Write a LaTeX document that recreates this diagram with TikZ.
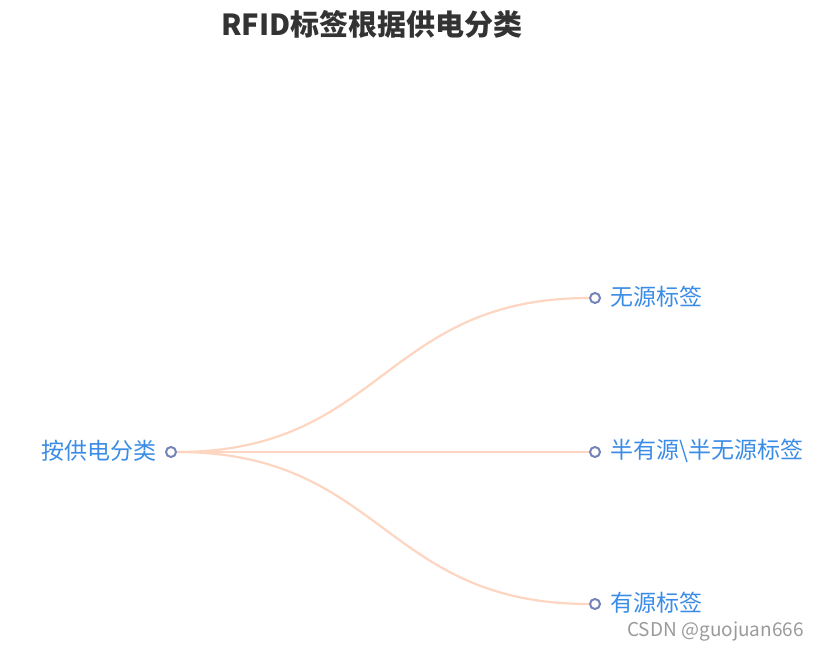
\documentclass[tikz,border=0pt]{standalone}
\usepackage{fontspec}
\newfontfamily\cjk{Noto Sans CJK SC}
\definecolor{edgec}{HTML}{FDD5C1}
\definecolor{dotc}{HTML}{7384B8}
\definecolor{txtc}{HTML}{3B8CE6}
\definecolor{titlec}{HTML}{333333}
\definecolor{wmc}{HTML}{9A9A9A}
\begin{document}
\begin{tikzpicture}[x=1pt,y=-1pt,
  dot/.style={circle,draw=dotc,fill=white,line width=2pt,minimum size=10pt,inner sep=0pt},
  conn/.style={draw=edgec,line width=2.2pt},
  lbl/.style={text=txtc,font=\cjk\fontsize{23}{26}\selectfont,inner sep=0pt}]
\useasboundingbox (0,0) rectangle (820,652);
\node[font=\cjk\bfseries\fontsize{29}{32}\selectfont,text=titlec,inner sep=0pt] (title) at (372,24) {RFID标签根据供电分类};
\node[dot] (root) at (171,452) {};
\node[dot] (a) at (595,298) {};
\node[dot] (b) at (595,452) {};
\node[dot] (c) at (595,604) {};
\node[lbl,anchor=east] (rl) at (157,451) {按供电分类};
\node[lbl,anchor=west] (al) at (610,297) {无源标签};
\node[lbl,anchor=west] (bl) at (610,451) {半有源\textbackslash 半无源标签};
\node[lbl,anchor=west] (cl) at (610,603) {有源标签};
\node[text=wmc,font=\cjk\fontsize{19}{21}\selectfont,inner sep=0pt,anchor=east] (wm) at (804,632) {CSDN @guojuan666};
\begin{scope}[on background layer/.try]
\path[conn] (root.east) .. controls (383,452) and (383,298) .. (a.west);
\path[conn] (root.east) -- (b.west);
\path[conn] (root.east) .. controls (383,452) and (383,604) .. (c.west);
\end{scope}
\end{tikzpicture}
\end{document}
